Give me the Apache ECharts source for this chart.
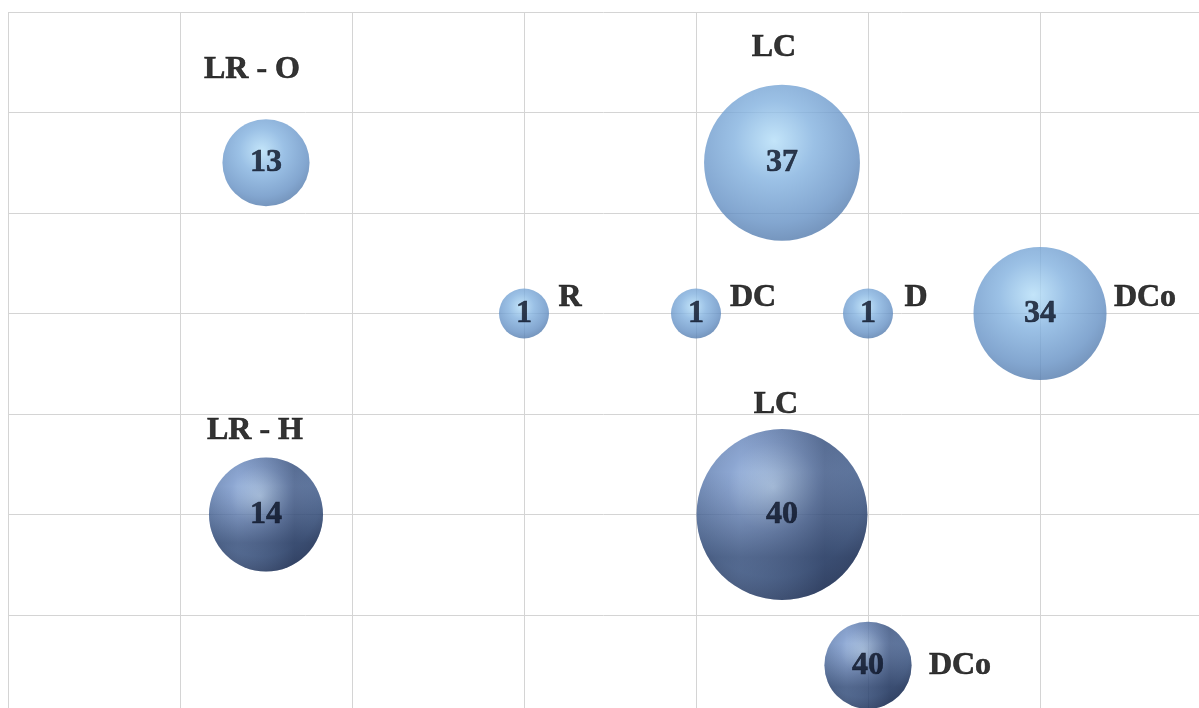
<!DOCTYPE html>
<html>
<head>
<meta charset="utf-8">
<script src="https://cdn.jsdelivr.net/npm/echarts@6/dist/echarts.min.js"></script>
<style>
  html, body { margin: 0; padding: 0; background: #fff; }
  #chart { width: 1199px; height: 708px; }
</style>
</head>
<body>
<div id="chart"></div>
<script>
// Bubble data (grid units, y counted from the top row)
const names = ["LR - O", "LC", "R", "DC", "D", "DCo", "LR - H", "LC", "DCo"];
const xPos = [1.5, 4.5, 3, 4, 5, 6, 1.5, 4.5, 5];
const yPos = [1.5, 1.5, 3, 3, 3, 3, 5, 5, 6.5];
const counts = [13, 37, 1, 1, 1, 34, 14, 40, 40];
const weights = [76, 243, 25, 25, 25, 177, 130, 292, 76];
const groups = ["plain", "plain", "plain", "plain", "plain", "plain", "textured", "textured", "textured"];

// where each name sits relative to its bubble centre
const nameOffsets = [
  [-14, -93], [-8, -115], [46, -16], [57, -16], [48, -16],
  [105, -16], [-11, -84], [-6, -110], [92, 0]
];

const chart = echarts.init(document.getElementById("chart"));

function pointsFor(group) {
  const pts = [];
  names.forEach((n, i) => {
    if (group && groups[i] !== group) return;
    pts.push({ name: n, value: [xPos[i], yPos[i], counts[i], weights[i]], idx: i });
  });
  return pts;
}

const sizeOf = (v) => Math.sqrt(v[3]) * 10;

// small woven pattern for the textured bubbles
function weaveCanvas() {
  const c = document.createElement("canvas");
  c.width = 4;
  c.height = 4;
  const ctx = c.getContext("2d");
  ctx.fillStyle = "rgba(8, 20, 50, 0.4)";
  ctx.fillRect(0, 0, 4, 1);
  ctx.fillRect(0, 0, 1, 4);
  ctx.fillStyle = "rgba(220, 235, 255, 0.35)";
  ctx.fillRect(2, 2, 1, 1);
  ctx.fillRect(2, 1, 1, 1);
  return c;
}

const numberLabel = {
  show: true,
  position: "inside",
  formatter: (p) => p.value[2],
  fontFamily: "Liberation Serif",
  fontWeight: "bold",
  fontSize: 32,
  color: "#0a1224",
  textBorderColor: "#0a1224",
  textBorderWidth: 0.6
};

const axisCommon = {
  type: "value",
  min: 0,
  interval: 1,
  axisLine: { show: false },
  axisTick: { show: false },
  axisLabel: { show: false },
  splitLine: { show: true, showMaxLine: false, lineStyle: { color: "#d4d4d4", width: 1 } }
};

const option = {
  animation: false,
  backgroundColor: "#fff",
  grid: { left: 8, top: 12, right: 0, bottom: 0 },
  xAxis: { ...axisCommon, max: 1191 / 172 },
  yAxis: { ...axisCommon, max: 696 / 100.5, inverse: true },
  series: [
    {
      name: "plain",
      type: "scatter",
      data: pointsFor("plain"),
      symbolSize: sizeOf,
      itemStyle: {
        color: {
          type: "radial", x: 0.45, y: 0.36, r: 0.64,
          colorStops: [
            { offset: 0, color: "#b4def8" },
            { offset: 0.4, color: "#82b1df" },
            { offset: 0.82, color: "#6490c4" },
            { offset: 1, color: "#547cae" }
          ]
        }
      },
      label: numberLabel
    },
    {
      name: "textured",
      type: "scatter",
      data: pointsFor("textured"),
      symbolSize: sizeOf,
      itemStyle: {
        color: {
          type: "radial", x: 0.45, y: 0.34, r: 0.66,
          colorStops: [
            { offset: 0, color: "#b4d2f6" },
            { offset: 0.4, color: "#7090c6" },
            { offset: 0.8, color: "#4a6a9e" },
            { offset: 1, color: "#2b4370" }
          ]
        }
      }
    },
    {
      name: "weave",
      type: "scatter",
      silent: true,
      data: pointsFor("textured"),
      symbolSize: sizeOf,
      itemStyle: { color: { image: weaveCanvas(), repeat: "repeat" } },
      label: numberLabel
    },
    {
      name: "names",
      type: "scatter",
      silent: true,
      z: 5,
      data: pointsFor(null).map((p) => ({
        ...p,
        label: { offset: nameOffsets[p.idx] }
      })),
      symbolSize: sizeOf,
      itemStyle: { color: "rgba(0,0,0,0)" },
      label: {
        show: true,
        position: "inside",
        formatter: (p) => p.name,
        fontFamily: "Liberation Serif",
        fontWeight: "bold",
        fontSize: 32,
        color: "#000",
        textBorderColor: "#000",
        textBorderWidth: 0.6
      }
    }
  ]
};

chart.setOption(option);
</script>
</body>
</html>
